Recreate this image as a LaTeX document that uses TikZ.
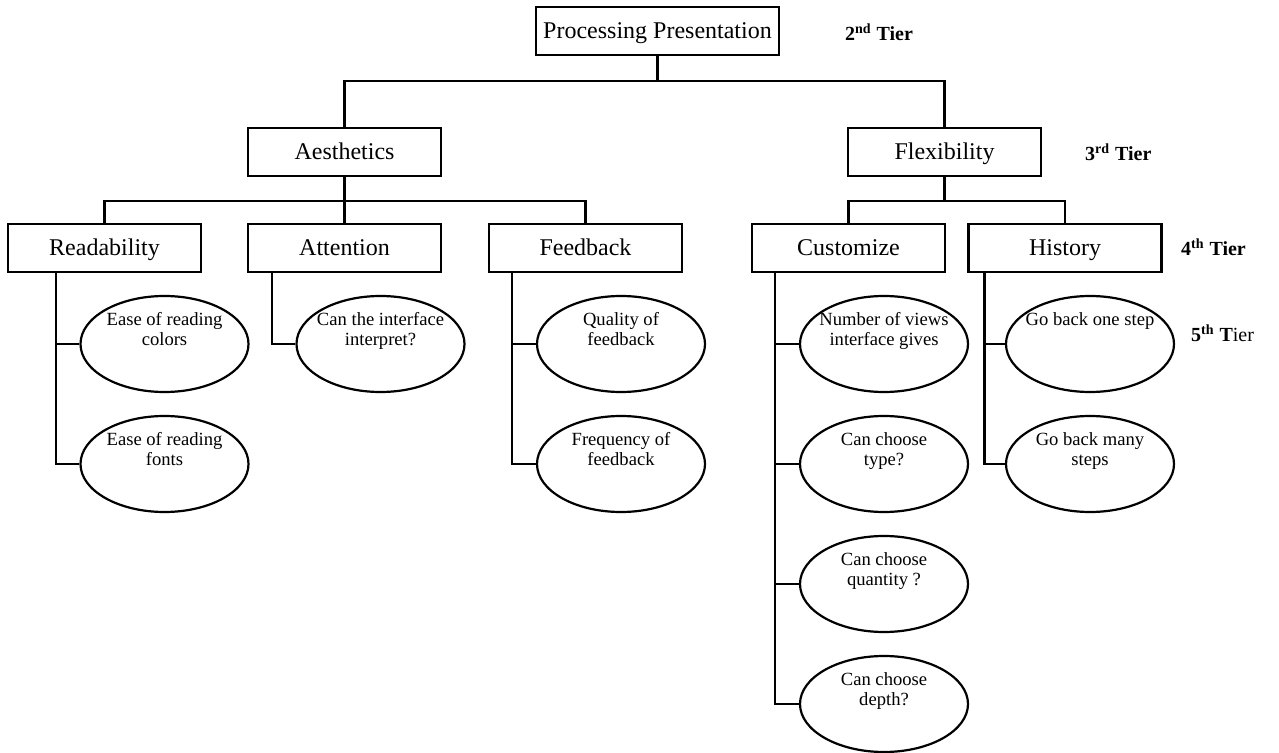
\documentclass[tikz,border=0pt]{standalone}
\usepackage{fontspec}
\setmainfont{Liberation Serif}
\usetikzlibrary{shapes.geometric,calc}
\begin{document}
\begin{tikzpicture}[x=0.5pt,y=-0.5pt,line width=1.1pt,
  tbox/.style={draw,rectangle,minimum width=96.5pt,minimum height=24pt,inner sep=0pt,
    text height=10.6pt,text depth=2.6pt,font=\fontsize{12}{14}\selectfont},
  leaf/.style={draw,ellipse,minimum width=84pt,minimum height=48pt,inner sep=0pt},
  leaftext/.style={anchor=north,align=center,inner sep=0pt,
    font=\fontsize{9.3}{10}\selectfont},
  tier/.style={anchor=west,inner sep=0pt,font=\fontsize{10}{12}\selectfont\bfseries}]
\useasboundingbox (0,0) rectangle (1279,753);

% boxes
\node[tbox,minimum width=121.5pt] (pp) at (657.5,31) {Processing Presentation};
\node[tbox] (aes)  at (344.5,152) {Aesthetics};
\node[tbox] (flex) at (944.5,152) {Flexibility};
\node[tbox] (read) at (104.5,248) {Readability};
\node[tbox] (att)  at (344.5,248) {Attention};
\node[tbox] (feed) at (585.5,248) {Feedback};
\node[tbox] (cust) at (848.5,248) {Customize};
\node[tbox] (hist) at (1065,248) {History};

% tier labels
\node[tier] (t2) at (844,32)  {2\textsuperscript{nd} Tier};
\node[tier] (t3) at (1084,152) {3\textsuperscript{rd} Tier};
\node[tier] (t4) at (1180,247) {4\textsuperscript{th} Tier};
\node[tier] (t5) at (1190,333) {5\textsuperscript{th} T\mdseries ier};

% leaves
\foreach \n/\x/\y/\t in {
  r1/164.5/344/{Ease of reading\\colors},
  r2/164.5/464/{Ease of reading\\fonts},
  a1/380.5/344/{Can the interface\\interpret?},
  f1/621/344/{Quality of\\feedback},
  f2/621/464/{Frequency of\\feedback},
  c1/884/344/{Number of views\\interface gives},
  c2/884/464/{Can choose\\type?},
  c3/884/584/{Can choose\\quantity ?},
  c4/884/704/{Can choose\\depth?},
  h1/1090/344/{Go back one step},
  h2/1090/464/{Go back many\\steps}}{
  \node[leaf] (\n) at (\x,\y) {};
  \node[leaftext] (\n t) at ($(\n.center)+(0,-33)$) {\t};
}

% tree connectors
\coordinate (j1) at ($(pp.south)+(0,25)$);
\draw (pp.south) -- (j1);
\draw (aes.north) |- (j1) -| (flex.north);

\coordinate (j2) at ($(aes.south)+(0,24)$);
\draw (aes.south) -- (j2);
\draw (read.north) |- (j2) -| (feed.north);
\draw (att.north) -- (att.north |- j2);

\coordinate (j3) at ($(flex.south)+(0,24)$);
\draw (flex.south) -- (j3);
\draw (cust.north) |- (j3) -| (hist.north);

% leaf connectors
\coordinate (rs) at ($(read.south west)+(49,0)$);
\draw (rs) |- (r1.west);
\draw (rs) |- (r2.west);
\coordinate (as) at ($(att.south west)+(25,0)$);
\draw (as) |- (a1.west);
\coordinate (fs) at ($(feed.south west)+(24,0)$);
\draw (fs) |- (f1.west);
\draw (fs) |- (f2.west);
\coordinate (cs) at ($(cust.south west)+(24,0)$);
\draw (cs) |- (c1.west);
\draw (cs) |- (c2.west);
\draw (cs) |- (c3.west);
\draw (cs) |- (c4.west);
\coordinate (hs) at ($(hist.south west)+(17,0)$);
\draw (hs) |- (h1.west);
\draw (hs) |- (h2.west);
\end{tikzpicture}
\end{document}
